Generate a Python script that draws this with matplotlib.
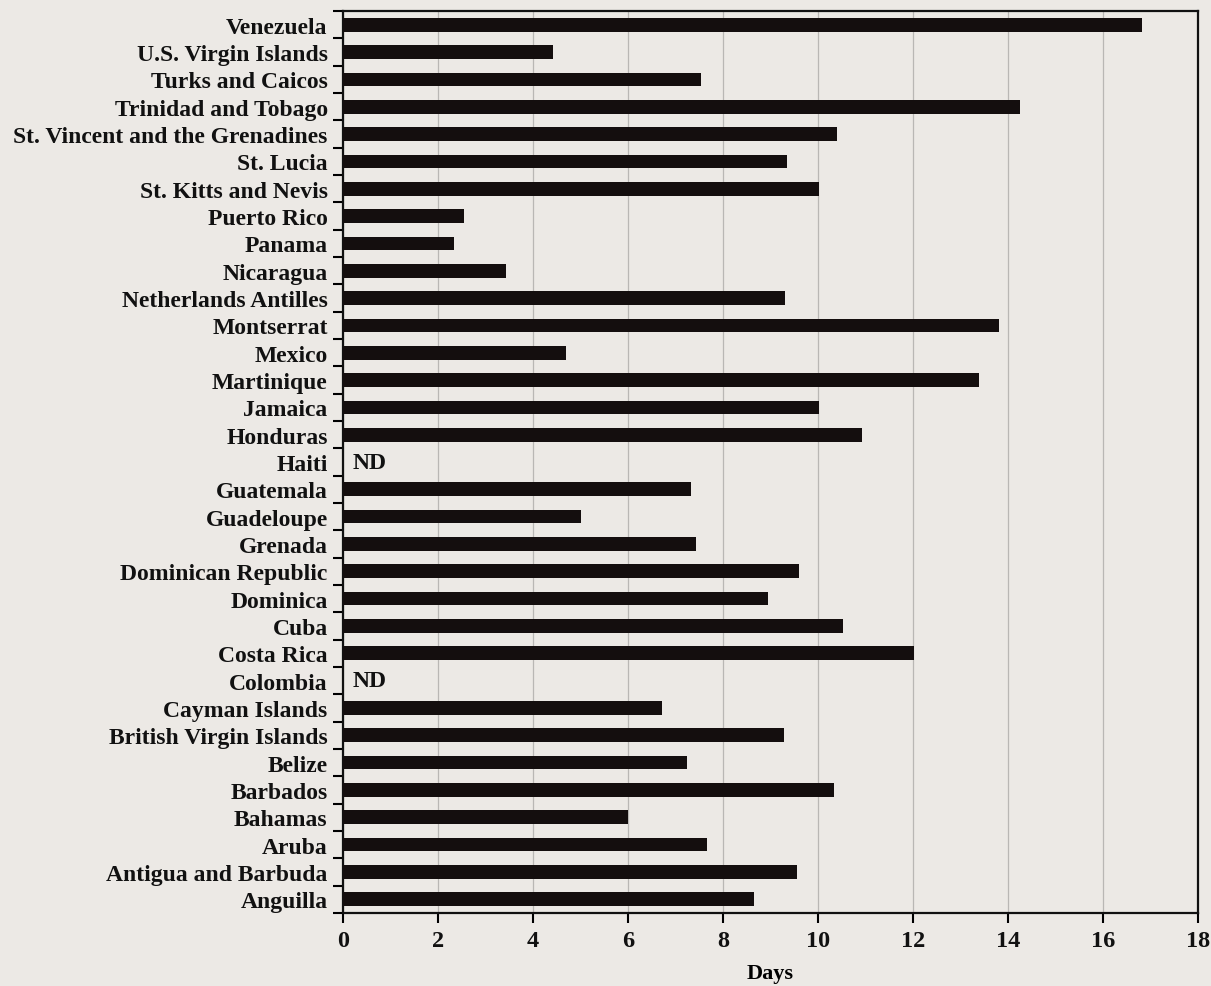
import matplotlib.pyplot as plt
import numpy as np

# bottom to top
countries = ["Anguilla", "Antigua and Barbuda", "Aruba", "Bahamas", "Barbados",
             "Belize", "British Virgin Islands", "Cayman Islands", "Colombia",
             "Costa Rica", "Cuba", "Dominica", "Dominican Republic", "Grenada",
             "Guadeloupe", "Guatemala", "Haiti", "Honduras", "Jamaica",
             "Martinique", "Mexico", "Montserrat", "Netherlands Antilles",
             "Nicaragua", "Panama", "Puerto Rico", "St. Kitts and Nevis",
             "St. Lucia", "St. Vincent and the Grenadines", "Trinidad and Tobago",
             "Turks and Caicos", "U.S. Virgin Islands", "Venezuela"]
days = [8.65, 9.55, 7.66, 6.01, 10.34,
        7.24, 9.28, 6.71, np.nan,
        12.03, 10.52, 8.95, 9.60, 7.44,
        5.02, 7.33, np.nan, 10.92, 10.03,
        13.38, 4.70, 13.80, 9.31,
        3.43, 2.34, 2.55, 10.03,
        9.35, 10.41, 14.26,
        7.53, 4.43, 16.81]

bg = "#ece9e5"
font = "Liberation Serif"

fig = plt.figure(figsize=(12.11, 9.87), dpi=100, facecolor=bg)
ax = fig.add_axes([0.2832, 0.0740, 0.7061, 0.9138], facecolor=bg)

y = np.arange(len(countries))
vals = np.nan_to_num(np.array(days, dtype=float))
ax.barh(y, vals, height=0.5, color="#140e0e", zorder=3)

for yi, v in zip(y, days):
    if np.isnan(v):
        ax.text(0.2, yi, "ND", ha="left", va="center", fontsize=17,
                fontweight="bold", family=font, color="#111111")

ax.set_xlim(0, 18)
ax.set_ylim(-0.5, len(countries) - 0.5)
ax.set_xticks(np.arange(0, 19, 2))
ax.set_yticks(y)
ax.set_yticklabels(countries)
ax.set_yticks(np.arange(-0.5, len(countries), 1), minor=True)
ax.tick_params(axis="y", which="major", length=0, pad=11)
ax.tick_params(axis="y", which="minor", length=7, width=1.5, direction="out")
ax.tick_params(axis="x", length=7, width=1.5, direction="out", pad=5)
for lab in ax.get_yticklabels():
    lab.set_fontfamily(font)
    lab.set_fontweight("bold")
    lab.set_fontsize(17)
    lab.set_color("#111111")
for lab in ax.get_xticklabels():
    lab.set_fontfamily(font)
    lab.set_fontweight("bold")
    lab.set_fontsize(17.5)
    lab.set_color("#111111")

ax.grid(axis="x", color="#b9b7b4", linewidth=0.9, zorder=0)
for s in ax.spines.values():
    s.set_linewidth(1.6)
    s.set_color("#111111")

ax.set_xlabel("Days", fontsize=16, fontweight="bold", family=font, labelpad=9)

fig.savefig("out.png", dpi=100, facecolor=bg)
